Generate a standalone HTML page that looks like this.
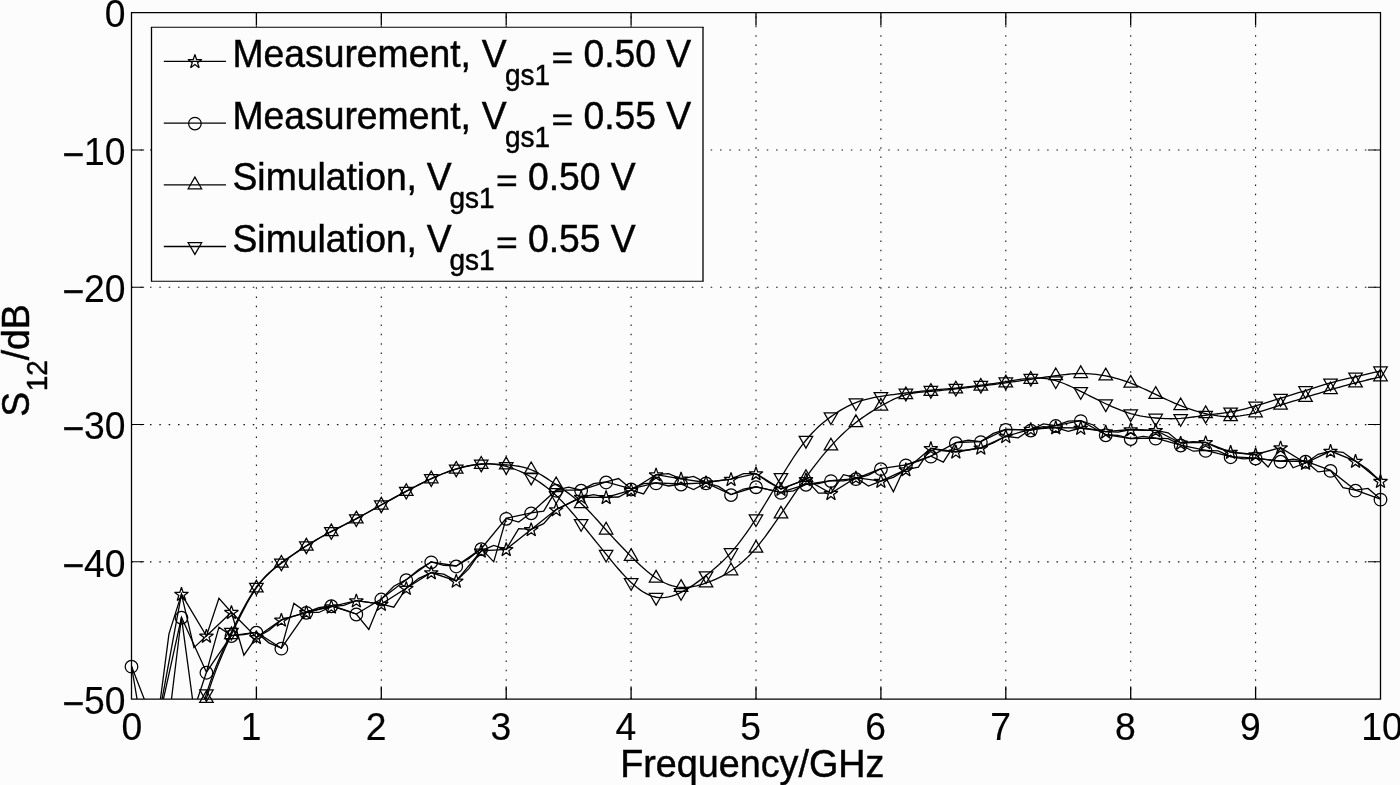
<!DOCTYPE html>
<html lang="en"><head><meta charset="utf-8"><title>S12 versus frequency</title>
<style>html,body{margin:0;padding:0;background:#fcfcfc;}body{width:1400px;height:785px;overflow:hidden;}svg{display:block;will-change:transform;}text{font-family:"Liberation Sans", sans-serif;fill:#000;stroke:#000;stroke-width:0.45px;}</style></head><body>
<svg width="1400" height="785" viewBox="0 0 1400 785">
<rect x="0" y="0" width="1400" height="785" fill="#fcfcfc"/>
<defs><clipPath id="ax"><rect x="131.50" y="12.80" width="1249.00" height="686.30"/></clipPath></defs>
<path d="M256.40 699.10 V12.80 M381.30 699.10 V12.80 M506.20 699.10 V12.80 M631.10 699.10 V12.80 M756.00 699.10 V12.80 M880.90 699.10 V12.80 M1005.80 699.10 V12.80 M1130.70 699.10 V12.80 M1255.60 699.10 V12.80" fill="none" stroke="#111" stroke-width="1.1" stroke-dasharray="1.5 7.8335" stroke-dashoffset="0.25"/>
<path d="M131.50 150.06 H1380.50 M131.50 287.32 H1380.50 M131.50 424.58 H1380.50 M131.50 561.84 H1380.50" fill="none" stroke="#111" stroke-width="1.1" stroke-dasharray="1.5 7.8450" stroke-dashoffset="0.2"/>
<g clip-path="url(#ax)" fill="none" stroke="#000" stroke-width="1.30" stroke-linejoin="miter">
<path d="M131.50 863.81 L143.99 918.72 L156.48 729.30 L168.97 633.90 L181.46 594.10 L193.95 647.63 L206.44 635.96 L218.93 598.21 L231.42 612.21 L243.91 655.18 L256.40 637.33 L268.89 630.47 L281.38 619.90 L293.87 616.12 L306.36 612.35 L318.85 612.47 L331.34 606.72 L343.83 605.29 L356.32 600.68 L368.81 602.40 L381.30 604.12 L393.79 607.14 L406.28 588.19 L418.77 578.29 L431.26 572.55 L443.75 574.19 L456.24 580.92 L468.73 568.87 L481.22 550.86 L493.71 545.37 L506.20 549.35 L518.69 528.62 L531.18 529.45 L543.67 523.68 L556.16 509.54 L568.65 503.70 L581.14 497.19 L593.63 494.58 L606.12 497.33 L618.61 497.02 L631.10 490.19 L643.59 493.90 L656.08 474.68 L668.57 473.65 L681.06 478.80 L693.55 476.33 L706.04 482.50 L718.53 480.52 L731.02 479.21 L743.51 473.59 L756.00 473.58 L768.49 482.23 L780.98 489.09 L793.47 484.13 L805.96 479.48 L818.45 493.21 L830.94 493.21 L843.43 474.68 L855.92 477.70 L868.41 486.07 L880.90 481.13 L893.39 477.39 L905.88 469.60 L918.37 467.13 L930.86 448.33 L943.35 450.92 L955.84 451.76 L968.33 449.99 L980.82 447.91 L993.31 443.00 L1005.80 436.25 L1018.29 437.89 L1030.78 429.25 L1043.27 426.58 L1055.76 427.60 L1068.25 431.44 L1080.74 428.01 L1093.23 429.37 L1105.72 431.72 L1118.21 432.16 L1130.70 429.52 L1143.19 430.26 L1155.68 430.34 L1168.17 432.82 L1180.66 442.97 L1193.15 441.62 L1205.64 442.42 L1218.13 448.12 L1230.62 452.03 L1243.11 453.55 L1255.60 454.50 L1268.09 466.99 L1280.58 447.64 L1293.07 467.82 L1305.56 463.01 L1318.05 454.25 L1330.54 451.07 L1343.03 452.31 L1355.52 461.09 L1368.01 469.46 L1380.50 481.13"/>
<path d="M131.50 863.81 L156.48 729.30 L181.46 594.10 L206.44 635.96 L231.42 612.21 L256.40 637.33 L281.38 619.90 L306.36 612.35 L331.34 606.72 L356.32 600.68 L381.30 604.12 L406.28 588.19 L431.26 572.55 L456.24 580.92 L481.22 550.86 L506.20 549.35 L531.18 529.45 L556.16 509.54 L581.14 497.19 L606.12 497.33 L631.10 490.19 L656.08 474.68 L681.06 478.80 L706.04 482.50 L731.02 479.21 L756.00 473.58 L780.98 489.09 L805.96 479.48 L830.94 493.21 L855.92 477.70 L880.90 481.13 L905.88 469.60 L930.86 448.33 L955.84 451.76 L980.82 447.91 L1005.80 436.25 L1030.78 429.25 L1055.76 427.60 L1080.74 428.01 L1105.72 431.72 L1130.70 429.52 L1155.68 430.34 L1180.66 442.97 L1205.64 442.42 L1230.62 452.03 L1255.60 454.50 L1280.58 447.64 L1305.56 463.01 L1330.54 451.07 L1355.52 461.09 L1380.50 481.13"/>
<path d="M131.50 666.16 L143.99 740.28 L156.48 730.67 L168.97 719.69 L181.46 617.29 L193.95 709.67 L206.44 672.20 L218.93 627.18 L231.42 635.55 L243.91 634.49 L256.40 632.25 L268.89 642.82 L281.38 648.18 L293.87 603.43 L306.36 612.35 L318.85 607.62 L331.34 605.76 L343.83 609.71 L356.32 614.00 L368.81 629.51 L381.30 599.04 L393.79 586.23 L406.28 579.68 L418.77 569.51 L431.26 561.84 L443.75 565.27 L456.24 565.96 L468.73 558.62 L481.22 548.66 L493.71 561.84 L506.20 518.33 L518.69 522.03 L531.18 512.84 L543.67 511.19 L556.16 490.19 L568.65 487.14 L581.14 490.19 L593.63 483.68 L606.12 481.95 L618.61 478.52 L631.10 488.95 L643.59 483.59 L656.08 482.92 L668.57 486.00 L681.06 484.01 L693.55 489.50 L706.04 482.92 L718.53 486.35 L731.02 494.58 L743.51 489.01 L756.00 486.76 L768.49 489.67 L780.98 492.39 L793.47 490.83 L805.96 484.29 L818.45 483.51 L830.94 480.58 L843.43 480.83 L855.92 478.66 L868.41 475.02 L880.90 468.64 L893.39 491.84 L905.88 464.80 L918.37 461.06 L930.86 456.15 L943.35 462.05 L955.84 442.70 L968.33 440.26 L980.82 441.60 L993.31 433.46 L1005.80 429.38 L1018.29 429.57 L1030.78 430.07 L1043.27 423.89 L1055.76 425.54 L1068.25 421.16 L1080.74 420.60 L1093.23 425.01 L1105.72 434.74 L1118.21 435.46 L1130.70 438.58 L1143.19 436.31 L1155.68 438.17 L1168.17 438.59 L1180.66 445.03 L1193.15 451.21 L1205.64 450.38 L1218.13 450.96 L1230.62 456.70 L1243.11 458.92 L1255.60 458.07 L1268.09 459.82 L1280.58 461.23 L1293.07 459.19 L1305.56 461.23 L1318.05 471.93 L1330.54 470.42 L1343.03 487.72 L1355.52 490.19 L1368.01 488.41 L1380.50 499.11"/>
<path d="M131.50 666.16 L156.48 730.67 L181.46 617.29 L206.44 672.20 L231.42 635.55 L256.40 632.25 L281.38 648.18 L306.36 612.35 L331.34 605.76 L356.32 614.00 L381.30 599.04 L406.28 579.68 L431.26 561.84 L456.24 565.96 L481.22 548.66 L506.20 518.33 L531.18 512.84 L556.16 490.19 L581.14 490.19 L606.12 481.95 L631.10 488.95 L656.08 482.92 L681.06 484.01 L706.04 482.92 L731.02 494.58 L756.00 486.76 L780.98 492.39 L805.96 484.29 L830.94 480.58 L855.92 478.66 L880.90 468.64 L905.88 464.80 L930.86 456.15 L955.84 442.70 L980.82 441.60 L1005.80 429.38 L1030.78 430.07 L1055.76 425.54 L1080.74 420.60 L1105.72 434.74 L1130.70 438.58 L1155.68 438.17 L1180.66 445.03 L1205.64 450.38 L1230.62 456.70 L1255.60 458.07 L1280.58 461.23 L1305.56 461.23 L1330.54 470.42 L1355.52 490.19 L1380.50 499.11"/>
<path d="M131.50 1110.88 L134.62 1089.04 L137.75 1067.55 L140.87 1046.41 L143.99 1025.62 L147.11 1005.20 L150.24 985.15 L153.36 965.47 L156.48 946.17 L159.60 927.26 L162.72 908.73 L165.85 890.61 L168.97 872.89 L172.09 855.58 L175.22 838.69 L178.34 822.21 L181.46 806.16 L184.58 790.56 L187.71 775.44 L190.83 760.88 L193.95 746.93 L197.07 733.64 L200.19 721.09 L203.32 709.33 L206.44 698.41 L209.56 688.38 L212.69 679.15 L215.81 670.61 L218.93 662.66 L222.05 655.19 L225.18 648.09 L228.30 641.26 L231.42 634.59 L234.54 628.00 L237.67 621.51 L240.79 615.19 L243.91 609.08 L247.03 603.25 L250.16 597.74 L253.28 592.61 L256.40 587.92 L259.52 583.70 L262.64 579.92 L265.77 576.51 L268.89 573.43 L272.01 570.62 L275.13 568.01 L278.26 565.56 L281.38 563.21 L284.50 560.92 L287.62 558.66 L290.75 556.45 L293.87 554.28 L296.99 552.16 L300.12 550.08 L303.24 548.05 L306.36 546.06 L309.48 544.11 L312.61 542.20 L315.73 540.34 L318.85 538.52 L321.97 536.74 L325.10 535.00 L328.22 533.30 L331.34 531.64 L334.46 530.02 L337.59 528.42 L340.71 526.84 L343.83 525.27 L346.95 523.69 L350.07 522.11 L353.20 520.51 L356.32 518.88 L359.44 517.21 L362.56 515.51 L365.69 513.79 L368.81 512.04 L371.93 510.29 L375.06 508.53 L378.18 506.77 L381.30 505.01 L384.42 503.28 L387.55 501.55 L390.67 499.84 L393.79 498.14 L396.91 496.45 L400.03 494.77 L403.16 493.09 L406.28 491.43 L409.40 489.77 L412.52 488.12 L415.65 486.49 L418.77 484.88 L421.89 483.30 L425.01 481.76 L428.14 480.25 L431.26 478.80 L434.38 477.39 L437.50 476.04 L440.63 474.74 L443.75 473.51 L446.87 472.33 L450.00 471.22 L453.12 470.17 L456.24 469.19 L459.36 468.28 L462.49 467.44 L465.61 466.69 L468.73 466.01 L471.85 465.43 L474.98 464.94 L478.10 464.54 L481.22 464.25 L484.34 464.06 L487.47 463.97 L490.59 463.96 L493.71 464.03 L496.83 464.15 L499.96 464.33 L503.08 464.55 L506.20 464.80 L509.32 465.07 L512.45 465.38 L515.57 465.77 L518.69 466.26 L521.81 466.87 L524.94 467.64 L528.06 468.58 L531.18 469.74 L534.30 471.12 L537.42 472.70 L540.55 474.45 L543.67 476.35 L546.79 478.35 L549.92 480.43 L553.04 482.56 L556.16 484.70 L559.28 486.83 L562.40 488.97 L565.53 491.15 L568.65 493.39 L571.77 495.72 L574.90 498.17 L578.02 500.75 L581.14 503.50 L584.26 506.44 L587.38 509.55 L590.51 512.79 L593.63 516.13 L596.75 519.56 L599.88 523.03 L603.00 526.52 L606.12 530.00 L609.24 533.44 L612.37 536.84 L615.49 540.20 L618.61 543.52 L621.73 546.79 L624.86 550.02 L627.98 553.21 L631.10 556.35 L634.22 559.44 L637.35 562.47 L640.47 565.41 L643.59 568.24 L646.71 570.94 L649.84 573.48 L652.96 575.86 L656.08 578.04 L659.20 580.00 L662.33 581.75 L665.45 583.27 L668.57 584.56 L671.69 585.62 L674.82 586.45 L677.94 587.03 L681.06 587.37 L684.18 587.47 L687.31 587.34 L690.43 587.00 L693.55 586.48 L696.67 585.80 L699.79 584.97 L702.92 584.03 L706.04 582.98 L709.16 581.85 L712.29 580.62 L715.41 579.30 L718.53 577.86 L721.65 576.30 L724.77 574.61 L727.90 572.76 L731.02 570.76 L734.14 568.59 L737.27 566.25 L740.39 563.72 L743.51 561.00 L746.63 558.09 L749.75 554.98 L752.88 551.65 L756.00 548.11 L759.12 544.36 L762.25 540.40 L765.37 536.28 L768.49 532.00 L771.61 527.61 L774.74 523.11 L777.86 518.55 L780.98 513.94 L784.10 509.30 L787.23 504.66 L790.35 500.02 L793.47 495.40 L796.59 490.82 L799.72 486.29 L802.84 481.82 L805.96 477.43 L809.08 473.12 L812.21 468.91 L815.33 464.81 L818.45 460.81 L821.57 456.92 L824.70 453.15 L827.82 449.51 L830.94 445.99 L834.06 442.61 L837.19 439.36 L840.31 436.23 L843.43 433.24 L846.55 430.38 L849.67 427.63 L852.80 425.02 L855.92 422.52 L859.04 420.14 L862.17 417.88 L865.29 415.71 L868.41 413.64 L871.53 411.64 L874.65 409.72 L877.78 407.86 L880.90 406.05 L884.02 404.29 L887.15 402.59 L890.27 400.96 L893.39 399.44 L896.51 398.03 L899.63 396.75 L902.76 395.62 L905.88 394.66 L909.00 393.88 L912.12 393.25 L915.25 392.76 L918.37 392.38 L921.49 392.07 L924.62 391.82 L927.74 391.59 L930.86 391.36 L933.98 391.11 L937.11 390.83 L940.23 390.54 L943.35 390.22 L946.47 389.90 L949.60 389.57 L952.72 389.23 L955.84 388.89 L958.96 388.56 L962.09 388.23 L965.21 387.89 L968.33 387.56 L971.45 387.22 L974.58 386.87 L977.70 386.51 L980.82 386.15 L983.94 385.77 L987.07 385.38 L990.19 384.97 L993.31 384.56 L996.43 384.14 L999.56 383.72 L1002.68 383.29 L1005.80 382.85 L1008.92 382.42 L1012.05 381.98 L1015.17 381.53 L1018.29 381.09 L1021.41 380.64 L1024.54 380.19 L1027.66 379.74 L1030.78 379.28 L1033.90 378.83 L1037.03 378.37 L1040.15 377.92 L1043.27 377.46 L1046.39 377.01 L1049.52 376.57 L1052.64 376.14 L1055.76 375.72 L1058.88 375.30 L1062.01 374.91 L1065.13 374.55 L1068.25 374.23 L1071.37 373.96 L1074.50 373.74 L1077.62 373.59 L1080.74 373.52 L1083.86 373.53 L1086.99 373.62 L1090.11 373.79 L1093.23 374.05 L1096.35 374.38 L1099.47 374.79 L1102.60 375.28 L1105.72 375.85 L1108.84 376.50 L1111.97 377.22 L1115.09 378.01 L1118.21 378.89 L1121.33 379.83 L1124.46 380.86 L1127.58 381.95 L1130.70 383.13 L1133.82 384.37 L1136.95 385.69 L1140.07 387.06 L1143.19 388.47 L1146.31 389.92 L1149.43 391.39 L1152.56 392.89 L1155.68 394.38 L1158.80 395.88 L1161.92 397.36 L1165.05 398.82 L1168.17 400.26 L1171.29 401.67 L1174.41 403.04 L1177.54 404.37 L1180.66 405.64 L1183.78 406.85 L1186.91 408.01 L1190.03 409.10 L1193.15 410.13 L1196.27 411.10 L1199.39 412.00 L1202.52 412.83 L1205.64 413.60 L1208.76 414.30 L1211.88 414.92 L1215.01 415.45 L1218.13 415.90 L1221.25 416.24 L1224.38 416.48 L1227.50 416.61 L1230.62 416.62 L1233.74 416.50 L1236.87 416.26 L1239.99 415.91 L1243.11 415.46 L1246.23 414.91 L1249.36 414.28 L1252.48 413.56 L1255.60 412.78 L1258.72 411.93 L1261.85 411.03 L1264.97 410.09 L1268.09 409.11 L1271.21 408.11 L1274.34 407.10 L1277.46 406.09 L1280.58 405.09 L1283.70 404.10 L1286.83 403.13 L1289.95 402.17 L1293.07 401.21 L1296.19 400.26 L1299.32 399.31 L1302.44 398.36 L1305.56 397.40 L1308.68 396.44 L1311.81 395.47 L1314.93 394.49 L1318.05 393.52 L1321.17 392.56 L1324.30 391.60 L1327.42 390.65 L1330.54 389.72 L1333.66 388.80 L1336.79 387.90 L1339.91 387.02 L1343.03 386.16 L1346.15 385.31 L1349.28 384.48 L1352.40 383.66 L1355.52 382.85 L1358.64 382.06 L1361.77 381.28 L1364.89 380.51 L1368.01 379.75 L1371.13 379.00 L1374.26 378.27 L1377.38 377.54 L1380.50 376.81" stroke-width="1.3"/>
<path d="M131.50 1110.88 L134.62 1090.50 L137.75 1069.94 L140.87 1049.25 L143.99 1028.50 L147.11 1007.76 L150.24 987.08 L153.36 966.52 L156.48 946.17 L159.60 926.07 L162.72 906.29 L165.85 886.90 L168.97 867.95 L172.09 849.52 L175.22 831.66 L178.34 814.44 L181.46 797.93 L184.58 782.17 L187.71 767.18 L190.83 752.97 L193.95 739.53 L197.07 726.87 L200.19 714.99 L203.32 703.91 L206.44 693.61 L209.56 684.09 L212.69 675.27 L215.81 667.07 L218.93 659.39 L222.05 652.15 L225.18 645.25 L228.30 638.60 L231.42 632.12 L234.54 625.73 L237.67 619.46 L240.79 613.37 L243.91 607.49 L247.03 601.87 L250.16 596.57 L253.28 591.63 L256.40 587.10 L259.52 583.00 L262.64 579.31 L265.77 575.97 L268.89 572.94 L272.01 570.16 L275.13 567.57 L278.26 565.14 L281.38 562.80 L284.50 560.52 L287.62 558.28 L290.75 556.09 L293.87 553.94 L296.99 551.84 L300.12 549.78 L303.24 547.76 L306.36 545.78 L309.48 543.84 L312.61 541.94 L315.73 540.08 L318.85 538.26 L321.97 536.48 L325.10 534.74 L328.22 533.03 L331.34 531.37 L334.46 529.74 L337.59 528.14 L340.71 526.56 L343.83 524.99 L346.95 523.42 L350.07 521.84 L353.20 520.23 L356.32 518.60 L359.44 516.94 L362.56 515.24 L365.69 513.51 L368.81 511.77 L371.93 510.01 L375.06 508.25 L378.18 506.49 L381.30 504.74 L384.42 503.00 L387.55 501.28 L390.67 499.56 L393.79 497.86 L396.91 496.17 L400.03 494.49 L403.16 492.82 L406.28 491.15 L409.40 489.49 L412.52 487.84 L415.65 486.21 L418.77 484.60 L421.89 483.02 L425.01 481.48 L428.14 479.98 L431.26 478.52 L434.38 477.12 L437.50 475.77 L440.63 474.48 L443.75 473.25 L446.87 472.07 L450.00 470.96 L453.12 469.90 L456.24 468.91 L459.36 467.99 L462.49 467.14 L465.61 466.37 L468.73 465.69 L471.85 465.10 L474.98 464.61 L478.10 464.23 L481.22 463.97 L484.34 463.84 L487.47 463.83 L490.59 463.94 L493.71 464.18 L496.83 464.55 L499.96 465.05 L503.08 465.68 L506.20 466.44 L509.32 467.34 L512.45 468.36 L515.57 469.50 L518.69 470.77 L521.81 472.16 L524.94 473.67 L528.06 475.28 L531.18 477.01 L534.30 478.85 L537.42 480.81 L540.55 482.89 L543.67 485.11 L546.79 487.47 L549.92 489.99 L553.04 492.68 L556.16 495.54 L559.28 498.59 L562.40 501.80 L565.53 505.16 L568.65 508.64 L571.77 512.22 L574.90 515.90 L578.02 519.63 L581.14 523.41 L584.26 527.21 L587.38 531.03 L590.51 534.87 L593.63 538.72 L596.75 542.58 L599.88 546.44 L603.00 550.30 L606.12 554.15 L609.24 558.00 L612.37 561.81 L615.49 565.55 L618.61 569.21 L621.73 572.76 L624.86 576.16 L627.98 579.39 L631.10 582.43 L634.22 585.25 L637.35 587.82 L640.47 590.14 L643.59 592.19 L646.71 593.94 L649.84 595.38 L652.96 596.49 L656.08 597.25 L659.20 597.66 L662.33 597.72 L665.45 597.47 L668.57 596.93 L671.69 596.12 L674.82 595.06 L677.94 593.78 L681.06 592.31 L684.18 590.66 L687.31 588.86 L690.43 586.91 L693.55 584.84 L696.67 582.65 L699.79 580.37 L702.92 578.00 L706.04 575.57 L709.16 573.07 L712.29 570.51 L715.41 567.85 L718.53 565.08 L721.65 562.18 L724.77 559.13 L727.90 555.91 L731.02 552.51 L734.14 548.90 L737.27 545.09 L740.39 541.09 L743.51 536.92 L746.63 532.57 L749.75 528.06 L752.88 523.40 L756.00 518.60 L759.12 513.67 L762.25 508.63 L765.37 503.50 L768.49 498.31 L771.61 493.09 L774.74 487.85 L777.86 482.62 L780.98 477.43 L784.10 472.29 L787.23 467.24 L790.35 462.30 L793.47 457.50 L796.59 452.87 L799.72 448.42 L802.84 444.20 L805.96 440.23 L809.08 436.52 L812.21 433.06 L815.33 429.85 L818.45 426.84 L821.57 424.04 L824.70 421.41 L827.82 418.94 L830.94 416.62 L834.06 414.42 L837.19 412.34 L840.31 410.39 L843.43 408.57 L846.55 406.88 L849.67 405.32 L852.80 403.90 L855.92 402.62 L859.04 401.47 L862.17 400.46 L865.29 399.56 L868.41 398.76 L871.53 398.04 L874.65 397.41 L877.78 396.83 L880.90 396.30 L884.02 395.82 L887.15 395.36 L890.27 394.93 L893.39 394.52 L896.51 394.13 L899.63 393.75 L902.76 393.38 L905.88 393.01 L909.00 392.64 L912.12 392.28 L915.25 391.92 L918.37 391.57 L921.49 391.22 L924.62 390.89 L927.74 390.57 L930.86 390.27 L933.98 389.98 L937.11 389.70 L940.23 389.44 L943.35 389.18 L946.47 388.91 L949.60 388.64 L952.72 388.36 L955.84 388.07 L958.96 387.75 L962.09 387.42 L965.21 387.07 L968.33 386.71 L971.45 386.34 L974.58 385.96 L977.70 385.57 L980.82 385.19 L983.94 384.80 L987.07 384.40 L990.19 384.00 L993.31 383.59 L996.43 383.16 L999.56 382.72 L1002.68 382.25 L1005.80 381.75 L1008.92 381.23 L1012.05 380.70 L1015.17 380.17 L1018.29 379.66 L1021.41 379.19 L1024.54 378.78 L1027.66 378.44 L1030.78 378.19 L1033.90 378.04 L1037.03 378.01 L1040.15 378.11 L1043.27 378.33 L1046.39 378.69 L1049.52 379.19 L1052.64 379.85 L1055.76 380.66 L1058.88 381.63 L1062.01 382.74 L1065.13 383.98 L1068.25 385.33 L1071.37 386.76 L1074.50 388.26 L1077.62 389.80 L1080.74 391.36 L1083.86 392.94 L1086.99 394.51 L1090.11 396.08 L1093.23 397.65 L1096.35 399.20 L1099.47 400.73 L1102.60 402.24 L1105.72 403.72 L1108.84 405.17 L1111.97 406.57 L1115.09 407.93 L1118.21 409.22 L1121.33 410.45 L1124.46 411.59 L1127.58 412.64 L1130.70 413.60 L1133.82 414.45 L1136.95 415.19 L1140.07 415.85 L1143.19 416.42 L1146.31 416.91 L1149.43 417.33 L1152.56 417.69 L1155.68 417.99 L1158.80 418.25 L1161.92 418.46 L1165.05 418.61 L1168.17 418.70 L1171.29 418.73 L1174.41 418.70 L1177.54 418.59 L1180.66 418.40 L1183.78 418.14 L1186.91 417.81 L1190.03 417.43 L1193.15 417.01 L1196.27 416.57 L1199.39 416.12 L1202.52 415.67 L1205.64 415.25 L1208.76 414.85 L1211.88 414.47 L1215.01 414.10 L1218.13 413.73 L1221.25 413.34 L1224.38 412.93 L1227.50 412.47 L1230.62 411.95 L1233.74 411.37 L1236.87 410.74 L1239.99 410.04 L1243.11 409.30 L1246.23 408.51 L1249.36 407.67 L1252.48 406.81 L1255.60 405.91 L1258.72 404.99 L1261.85 404.05 L1264.97 403.10 L1268.09 402.13 L1271.21 401.15 L1274.34 400.18 L1277.46 399.20 L1280.58 398.23 L1283.70 397.26 L1286.83 396.30 L1289.95 395.35 L1293.07 394.40 L1296.19 393.44 L1299.32 392.48 L1302.44 391.52 L1305.56 390.54 L1308.68 389.55 L1311.81 388.56 L1314.93 387.57 L1318.05 386.58 L1321.17 385.61 L1324.30 384.66 L1327.42 383.74 L1330.54 382.85 L1333.66 382.01 L1336.79 381.20 L1339.91 380.42 L1343.03 379.67 L1346.15 378.93 L1349.28 378.22 L1352.40 377.51 L1355.52 376.81 L1358.64 376.11 L1361.77 375.41 L1364.89 374.69 L1368.01 373.96 L1371.13 373.21 L1374.26 372.43 L1377.38 371.62 L1380.50 370.77" stroke-width="1.3"/>
</g>
<g fill="none" stroke="#000" stroke-width="1.25" stroke-linejoin="miter" stroke-miterlimit="3">
<path d="M181.46 587.30 L183.10 592.34 L188.40 592.34 L184.11 595.46 L185.75 600.50 L181.46 597.38 L177.17 600.50 L178.81 595.46 L174.52 592.34 L179.82 592.34Z M206.44 629.16 L208.08 634.20 L213.38 634.20 L209.09 637.32 L210.73 642.37 L206.44 639.25 L202.15 642.37 L203.79 637.32 L199.50 634.20 L204.80 634.20Z M231.42 605.41 L233.06 610.46 L238.36 610.46 L234.07 613.58 L235.71 618.62 L231.42 615.50 L227.13 618.62 L228.77 613.58 L224.48 610.46 L229.78 610.46Z M256.40 630.53 L258.04 635.58 L263.34 635.58 L259.05 638.69 L260.69 643.74 L256.40 640.62 L252.11 643.74 L253.75 638.69 L249.46 635.58 L254.76 635.58Z M281.38 613.10 L283.02 618.14 L288.32 618.15 L284.03 621.26 L285.67 626.31 L281.38 623.19 L277.09 626.31 L278.73 621.26 L274.44 618.15 L279.74 618.14Z M306.36 605.55 L308.00 610.60 L313.30 610.60 L309.01 613.71 L310.65 618.76 L306.36 615.64 L302.07 618.76 L303.71 613.71 L299.42 610.60 L304.72 610.60Z M331.34 599.92 L332.98 604.97 L338.28 604.97 L333.99 608.09 L335.63 613.13 L331.34 610.01 L327.05 613.13 L328.69 608.09 L324.40 604.97 L329.70 604.97Z M356.32 593.88 L357.96 598.93 L363.26 598.93 L358.97 602.05 L360.61 607.09 L356.32 603.97 L352.03 607.09 L353.67 602.05 L349.38 598.93 L354.68 598.93Z M381.30 597.32 L382.94 602.36 L388.24 602.36 L383.95 605.48 L385.59 610.52 L381.30 607.40 L377.01 610.52 L378.65 605.48 L374.36 602.36 L379.66 602.36Z M406.28 581.39 L407.92 586.44 L413.22 586.44 L408.93 589.56 L410.57 594.60 L406.28 591.48 L401.99 594.60 L403.63 589.56 L399.34 586.44 L404.64 586.44Z M431.26 565.75 L432.90 570.79 L438.20 570.79 L433.91 573.91 L435.55 578.95 L431.26 575.83 L426.97 578.95 L428.61 573.91 L424.32 570.79 L429.62 570.79Z M456.24 574.12 L457.88 579.16 L463.18 579.16 L458.89 582.28 L460.53 587.32 L456.24 584.21 L451.95 587.32 L453.59 582.28 L449.30 579.16 L454.60 579.16Z M481.22 544.06 L482.86 549.10 L488.16 549.10 L483.87 552.22 L485.51 557.27 L481.22 554.15 L476.93 557.27 L478.57 552.22 L474.28 549.10 L479.58 549.10Z M506.20 542.55 L507.84 547.59 L513.14 547.59 L508.85 550.71 L510.49 555.76 L506.20 552.64 L501.91 555.76 L503.55 550.71 L499.26 547.59 L504.56 547.59Z M531.18 522.65 L532.82 527.69 L538.12 527.69 L533.83 530.81 L535.47 535.85 L531.18 532.74 L526.89 535.85 L528.53 530.81 L524.24 527.69 L529.54 527.69Z M556.16 502.74 L557.80 507.79 L563.10 507.79 L558.81 510.91 L560.45 515.95 L556.16 512.83 L551.87 515.95 L553.51 510.91 L549.22 507.79 L554.52 507.79Z M581.14 490.39 L582.78 495.43 L588.08 495.43 L583.79 498.55 L585.43 503.60 L581.14 500.48 L576.85 503.60 L578.49 498.55 L574.20 495.43 L579.50 495.43Z M606.12 490.53 L607.76 495.57 L613.06 495.57 L608.77 498.69 L610.41 503.73 L606.12 500.62 L601.83 503.73 L603.47 498.69 L599.18 495.57 L604.48 495.57Z M631.10 483.39 L632.74 488.43 L638.04 488.43 L633.75 491.55 L635.39 496.60 L631.10 493.48 L626.81 496.60 L628.45 491.55 L624.16 488.43 L629.46 488.43Z M656.08 467.88 L657.72 472.92 L663.02 472.92 L658.73 476.04 L660.37 481.09 L656.08 477.97 L651.79 481.09 L653.43 476.04 L649.14 472.92 L654.44 472.92Z M681.06 472.00 L682.70 477.04 L688.00 477.04 L683.71 480.16 L685.35 485.20 L681.06 482.09 L676.77 485.20 L678.41 480.16 L674.12 477.04 L679.42 477.04Z M706.04 475.70 L707.68 480.75 L712.98 480.75 L708.69 483.87 L710.33 488.91 L706.04 485.79 L701.75 488.91 L703.39 483.87 L699.10 480.75 L704.40 480.75Z M731.02 472.41 L732.66 477.45 L737.96 477.45 L733.67 480.57 L735.31 485.62 L731.02 482.50 L726.73 485.62 L728.37 480.57 L724.08 477.45 L729.38 477.45Z M756.00 466.78 L757.64 471.83 L762.94 471.83 L758.65 474.94 L760.29 479.99 L756.00 476.87 L751.71 479.99 L753.35 474.94 L749.06 471.83 L754.36 471.83Z M780.98 482.29 L782.62 487.34 L787.92 487.34 L783.63 490.45 L785.27 495.50 L780.98 492.38 L776.69 495.50 L778.33 490.45 L774.04 487.34 L779.34 487.34Z M805.96 472.68 L807.60 477.73 L812.90 477.73 L808.61 480.85 L810.25 485.89 L805.96 482.77 L801.67 485.89 L803.31 480.85 L799.02 477.73 L804.32 477.73Z M830.94 486.41 L832.58 491.45 L837.88 491.45 L833.59 494.57 L835.23 499.62 L830.94 496.50 L826.65 499.62 L828.29 494.57 L824.00 491.45 L829.30 491.45Z M855.92 470.90 L857.56 475.94 L862.86 475.94 L858.57 479.06 L860.21 484.11 L855.92 480.99 L851.63 484.11 L853.27 479.06 L848.98 475.94 L854.28 475.94Z M880.90 474.33 L882.54 479.38 L887.84 479.38 L883.55 482.49 L885.19 487.54 L880.90 484.42 L876.61 487.54 L878.25 482.49 L873.96 479.38 L879.26 479.38Z M905.88 462.80 L907.52 467.85 L912.82 467.85 L908.53 470.96 L910.17 476.01 L905.88 472.89 L901.59 476.01 L903.23 470.96 L898.94 467.85 L904.24 467.85Z M930.86 441.53 L932.50 446.57 L937.80 446.57 L933.51 449.69 L935.15 454.73 L930.86 451.61 L926.57 454.73 L928.21 449.69 L923.92 446.57 L929.22 446.57Z M955.84 444.96 L957.48 450.00 L962.78 450.00 L958.49 453.12 L960.13 458.16 L955.84 455.05 L951.55 458.16 L953.19 453.12 L948.90 450.00 L954.20 450.00Z M980.82 441.11 L982.46 446.16 L987.76 446.16 L983.47 449.28 L985.11 454.32 L980.82 451.20 L976.53 454.32 L978.17 449.28 L973.88 446.16 L979.18 446.16Z M1005.80 429.45 L1007.44 434.49 L1012.74 434.49 L1008.45 437.61 L1010.09 442.65 L1005.80 439.54 L1001.51 442.65 L1003.15 437.61 L998.86 434.49 L1004.16 434.49Z M1030.78 422.45 L1032.42 427.49 L1037.72 427.49 L1033.43 430.61 L1035.07 435.65 L1030.78 432.54 L1026.49 435.65 L1028.13 430.61 L1023.84 427.49 L1029.14 427.49Z M1055.76 420.80 L1057.40 425.84 L1062.70 425.84 L1058.41 428.96 L1060.05 434.01 L1055.76 430.89 L1051.47 434.01 L1053.11 428.96 L1048.82 425.84 L1054.12 425.84Z M1080.74 421.21 L1082.38 426.26 L1087.68 426.26 L1083.39 429.37 L1085.03 434.42 L1080.74 431.30 L1076.45 434.42 L1078.09 429.37 L1073.80 426.26 L1079.10 426.26Z M1105.72 424.92 L1107.36 429.96 L1112.66 429.96 L1108.37 433.08 L1110.01 438.12 L1105.72 435.01 L1101.43 438.12 L1103.07 433.08 L1098.78 429.96 L1104.08 429.96Z M1130.70 422.72 L1132.34 427.77 L1137.64 427.77 L1133.35 430.88 L1134.99 435.93 L1130.70 432.81 L1126.41 435.93 L1128.05 430.88 L1123.76 427.77 L1129.06 427.77Z M1155.68 423.54 L1157.32 428.59 L1162.62 428.59 L1158.33 431.71 L1159.97 436.75 L1155.68 433.63 L1151.39 436.75 L1153.03 431.71 L1148.74 428.59 L1154.04 428.59Z M1180.66 436.17 L1182.30 441.22 L1187.60 441.22 L1183.31 444.33 L1184.95 449.38 L1180.66 446.26 L1176.37 449.38 L1178.01 444.33 L1173.72 441.22 L1179.02 441.22Z M1205.64 435.62 L1207.28 440.67 L1212.58 440.67 L1208.29 443.79 L1209.93 448.83 L1205.64 445.71 L1201.35 448.83 L1202.99 443.79 L1198.70 440.67 L1204.00 440.67Z M1230.62 445.23 L1232.26 450.28 L1237.56 450.28 L1233.27 453.39 L1234.91 458.44 L1230.62 455.32 L1226.33 458.44 L1227.97 453.39 L1223.68 450.28 L1228.98 450.28Z M1255.60 447.70 L1257.24 452.75 L1262.54 452.75 L1258.25 455.86 L1259.89 460.91 L1255.60 457.79 L1251.31 460.91 L1252.95 455.86 L1248.66 452.75 L1253.96 452.75Z M1280.58 440.84 L1282.22 445.88 L1287.52 445.88 L1283.23 449.00 L1284.87 454.05 L1280.58 450.93 L1276.29 454.05 L1277.93 449.00 L1273.64 445.88 L1278.94 445.88Z M1305.56 456.21 L1307.20 461.26 L1312.50 461.26 L1308.21 464.37 L1309.85 469.42 L1305.56 466.30 L1301.27 469.42 L1302.91 464.37 L1298.62 461.26 L1303.92 461.26Z M1330.54 444.27 L1332.18 449.32 L1337.48 449.32 L1333.19 452.43 L1334.83 457.48 L1330.54 454.36 L1326.25 457.48 L1327.89 452.43 L1323.60 449.32 L1328.90 449.32Z M1355.52 454.29 L1357.16 459.34 L1362.46 459.34 L1358.17 462.45 L1359.81 467.50 L1355.52 464.38 L1351.23 467.50 L1352.87 462.45 L1348.58 459.34 L1353.88 459.34Z M1380.50 474.33 L1382.14 479.38 L1387.44 479.38 L1383.15 482.49 L1384.79 487.54 L1380.50 484.42 L1376.21 487.54 L1377.85 482.49 L1373.56 479.38 L1378.86 479.38Z"/>
<path d="M125.20 666.66 a6.30 6.30 0 1 0 12.60 0 a6.30 6.30 0 1 0 -12.60 0Z M175.16 617.79 a6.30 6.30 0 1 0 12.60 0 a6.30 6.30 0 1 0 -12.60 0Z M200.14 672.70 a6.30 6.30 0 1 0 12.60 0 a6.30 6.30 0 1 0 -12.60 0Z M225.12 636.05 a6.30 6.30 0 1 0 12.60 0 a6.30 6.30 0 1 0 -12.60 0Z M250.10 632.75 a6.30 6.30 0 1 0 12.60 0 a6.30 6.30 0 1 0 -12.60 0Z M275.08 648.68 a6.30 6.30 0 1 0 12.60 0 a6.30 6.30 0 1 0 -12.60 0Z M300.06 612.85 a6.30 6.30 0 1 0 12.60 0 a6.30 6.30 0 1 0 -12.60 0Z M325.04 606.26 a6.30 6.30 0 1 0 12.60 0 a6.30 6.30 0 1 0 -12.60 0Z M350.02 614.50 a6.30 6.30 0 1 0 12.60 0 a6.30 6.30 0 1 0 -12.60 0Z M375.00 599.54 a6.30 6.30 0 1 0 12.60 0 a6.30 6.30 0 1 0 -12.60 0Z M399.98 580.18 a6.30 6.30 0 1 0 12.60 0 a6.30 6.30 0 1 0 -12.60 0Z M424.96 562.34 a6.30 6.30 0 1 0 12.60 0 a6.30 6.30 0 1 0 -12.60 0Z M449.94 566.46 a6.30 6.30 0 1 0 12.60 0 a6.30 6.30 0 1 0 -12.60 0Z M474.92 549.16 a6.30 6.30 0 1 0 12.60 0 a6.30 6.30 0 1 0 -12.60 0Z M499.90 518.83 a6.30 6.30 0 1 0 12.60 0 a6.30 6.30 0 1 0 -12.60 0Z M524.88 513.34 a6.30 6.30 0 1 0 12.60 0 a6.30 6.30 0 1 0 -12.60 0Z M549.86 490.69 a6.30 6.30 0 1 0 12.60 0 a6.30 6.30 0 1 0 -12.60 0Z M574.84 490.69 a6.30 6.30 0 1 0 12.60 0 a6.30 6.30 0 1 0 -12.60 0Z M599.82 482.45 a6.30 6.30 0 1 0 12.60 0 a6.30 6.30 0 1 0 -12.60 0Z M624.80 489.45 a6.30 6.30 0 1 0 12.60 0 a6.30 6.30 0 1 0 -12.60 0Z M649.78 483.42 a6.30 6.30 0 1 0 12.60 0 a6.30 6.30 0 1 0 -12.60 0Z M674.76 484.51 a6.30 6.30 0 1 0 12.60 0 a6.30 6.30 0 1 0 -12.60 0Z M699.74 483.42 a6.30 6.30 0 1 0 12.60 0 a6.30 6.30 0 1 0 -12.60 0Z M724.72 495.08 a6.30 6.30 0 1 0 12.60 0 a6.30 6.30 0 1 0 -12.60 0Z M749.70 487.26 a6.30 6.30 0 1 0 12.60 0 a6.30 6.30 0 1 0 -12.60 0Z M774.68 492.89 a6.30 6.30 0 1 0 12.60 0 a6.30 6.30 0 1 0 -12.60 0Z M799.66 484.79 a6.30 6.30 0 1 0 12.60 0 a6.30 6.30 0 1 0 -12.60 0Z M824.64 481.08 a6.30 6.30 0 1 0 12.60 0 a6.30 6.30 0 1 0 -12.60 0Z M849.62 479.16 a6.30 6.30 0 1 0 12.60 0 a6.30 6.30 0 1 0 -12.60 0Z M874.60 469.14 a6.30 6.30 0 1 0 12.60 0 a6.30 6.30 0 1 0 -12.60 0Z M899.58 465.30 a6.30 6.30 0 1 0 12.60 0 a6.30 6.30 0 1 0 -12.60 0Z M924.56 456.65 a6.30 6.30 0 1 0 12.60 0 a6.30 6.30 0 1 0 -12.60 0Z M949.54 443.20 a6.30 6.30 0 1 0 12.60 0 a6.30 6.30 0 1 0 -12.60 0Z M974.52 442.10 a6.30 6.30 0 1 0 12.60 0 a6.30 6.30 0 1 0 -12.60 0Z M999.50 429.88 a6.30 6.30 0 1 0 12.60 0 a6.30 6.30 0 1 0 -12.60 0Z M1024.48 430.57 a6.30 6.30 0 1 0 12.60 0 a6.30 6.30 0 1 0 -12.60 0Z M1049.46 426.04 a6.30 6.30 0 1 0 12.60 0 a6.30 6.30 0 1 0 -12.60 0Z M1074.44 421.10 a6.30 6.30 0 1 0 12.60 0 a6.30 6.30 0 1 0 -12.60 0Z M1099.42 435.24 a6.30 6.30 0 1 0 12.60 0 a6.30 6.30 0 1 0 -12.60 0Z M1124.40 439.08 a6.30 6.30 0 1 0 12.60 0 a6.30 6.30 0 1 0 -12.60 0Z M1149.38 438.67 a6.30 6.30 0 1 0 12.60 0 a6.30 6.30 0 1 0 -12.60 0Z M1174.36 445.53 a6.30 6.30 0 1 0 12.60 0 a6.30 6.30 0 1 0 -12.60 0Z M1199.34 450.88 a6.30 6.30 0 1 0 12.60 0 a6.30 6.30 0 1 0 -12.60 0Z M1224.32 457.20 a6.30 6.30 0 1 0 12.60 0 a6.30 6.30 0 1 0 -12.60 0Z M1249.30 458.57 a6.30 6.30 0 1 0 12.60 0 a6.30 6.30 0 1 0 -12.60 0Z M1274.28 461.73 a6.30 6.30 0 1 0 12.60 0 a6.30 6.30 0 1 0 -12.60 0Z M1299.26 461.73 a6.30 6.30 0 1 0 12.60 0 a6.30 6.30 0 1 0 -12.60 0Z M1324.24 470.92 a6.30 6.30 0 1 0 12.60 0 a6.30 6.30 0 1 0 -12.60 0Z M1349.22 490.69 a6.30 6.30 0 1 0 12.60 0 a6.30 6.30 0 1 0 -12.60 0Z M1374.20 499.61 a6.30 6.30 0 1 0 12.60 0 a6.30 6.30 0 1 0 -12.60 0Z"/>
<path d="M206.44 690.71 L213.19 702.41 L199.69 702.41Z M231.42 626.89 L238.17 638.59 L224.67 638.59Z M256.40 580.22 L263.15 591.92 L249.65 591.92Z M281.38 555.51 L288.13 567.21 L274.63 567.21Z M306.36 538.36 L313.11 550.06 L299.61 550.06Z M331.34 523.94 L338.09 535.64 L324.59 535.64Z M356.32 511.18 L363.07 522.88 L349.57 522.88Z M381.30 497.31 L388.05 509.01 L374.55 509.01Z M406.28 483.73 L413.03 495.43 L399.53 495.43Z M431.26 471.10 L438.01 482.80 L424.51 482.80Z M456.24 461.49 L462.99 473.19 L449.49 473.19Z M481.22 456.55 L487.97 468.25 L474.47 468.25Z M506.20 457.10 L512.95 468.80 L499.45 468.80Z M531.18 462.04 L537.93 473.74 L524.43 473.74Z M556.16 477.00 L562.91 488.70 L549.41 488.70Z M581.14 495.80 L587.89 507.50 L574.39 507.50Z M606.12 522.30 L612.87 534.00 L599.37 534.00Z M631.10 548.65 L637.85 560.35 L624.35 560.35Z M656.08 570.34 L662.83 582.04 L649.33 582.04Z M681.06 579.67 L687.81 591.37 L674.31 591.37Z M706.04 575.28 L712.79 586.98 L699.29 586.98Z M731.02 563.06 L737.77 574.76 L724.27 574.76Z M756.00 540.41 L762.75 552.11 L749.25 552.11Z M780.98 506.24 L787.73 517.94 L774.23 517.94Z M805.96 469.73 L812.71 481.43 L799.21 481.43Z M830.94 438.29 L837.69 449.99 L824.19 449.99Z M855.92 414.82 L862.67 426.52 L849.17 426.52Z M880.90 398.35 L887.65 410.05 L874.15 410.05Z M905.88 386.96 L912.63 398.66 L899.13 398.66Z M930.86 383.66 L937.61 395.36 L924.11 395.36Z M955.84 381.19 L962.59 392.89 L949.09 392.89Z M980.82 378.45 L987.57 390.15 L974.07 390.15Z M1005.80 375.15 L1012.55 386.85 L999.05 386.85Z M1030.78 371.58 L1037.53 383.28 L1024.03 383.28Z M1055.76 368.02 L1062.51 379.72 L1049.01 379.72Z M1080.74 365.82 L1087.49 377.52 L1073.99 377.52Z M1105.72 368.15 L1112.47 379.85 L1098.97 379.85Z M1130.70 375.43 L1137.45 387.13 L1123.95 387.13Z M1155.68 386.68 L1162.43 398.38 L1148.93 398.38Z M1180.66 397.94 L1187.41 409.64 L1173.91 409.64Z M1205.64 405.90 L1212.39 417.60 L1198.89 417.60Z M1230.62 408.92 L1237.37 420.62 L1223.87 420.62Z M1255.60 405.08 L1262.35 416.78 L1248.85 416.78Z M1280.58 397.39 L1287.33 409.09 L1273.83 409.09Z M1305.56 389.70 L1312.31 401.40 L1298.81 401.40Z M1330.54 382.02 L1337.29 393.72 L1323.79 393.72Z M1355.52 375.15 L1362.27 386.85 L1348.77 386.85Z M1380.50 369.11 L1387.25 380.81 L1373.75 380.81Z"/>
<path d="M206.44 701.51 L213.19 689.81 L199.69 689.81Z M231.42 640.02 L238.17 628.32 L224.67 628.32Z M256.40 595.00 L263.15 583.30 L249.65 583.30Z M281.38 570.70 L288.13 559.00 L274.63 559.00Z M306.36 553.68 L313.11 541.98 L299.61 541.98Z M331.34 539.27 L338.09 527.57 L324.59 527.57Z M356.32 526.50 L363.07 514.80 L349.57 514.80Z M381.30 512.64 L388.05 500.94 L374.55 500.94Z M406.28 499.05 L413.03 487.35 L399.53 487.35Z M431.26 486.42 L438.01 474.72 L424.51 474.72Z M456.24 476.81 L462.99 465.11 L449.49 465.11Z M481.22 471.87 L487.97 460.17 L474.47 460.17Z M506.20 474.34 L512.95 462.64 L499.45 462.64Z M531.18 484.91 L537.93 473.21 L524.43 473.21Z M556.16 503.44 L562.91 491.74 L549.41 491.74Z M581.14 531.31 L587.89 519.61 L574.39 519.61Z M606.12 562.05 L612.87 550.35 L599.37 550.35Z M631.10 590.33 L637.85 578.63 L624.35 578.63Z M656.08 605.15 L662.83 593.45 L649.33 593.45Z M681.06 600.21 L687.81 588.51 L674.31 588.51Z M706.04 583.47 L712.79 571.77 L699.29 571.77Z M731.02 560.41 L737.77 548.71 L724.27 548.71Z M756.00 526.50 L762.75 514.80 L749.25 514.80Z M780.98 485.33 L787.73 473.63 L774.23 473.63Z M805.96 448.13 L812.71 436.43 L799.21 436.43Z M830.94 424.52 L837.69 412.82 L824.19 412.82Z M855.92 410.52 L862.67 398.82 L849.17 398.82Z M880.90 404.20 L887.65 392.50 L874.15 392.50Z M905.88 400.91 L912.63 389.21 L899.13 389.21Z M930.86 398.17 L937.61 386.47 L924.11 386.47Z M955.84 395.97 L962.59 384.27 L949.09 384.27Z M980.82 393.09 L987.57 381.39 L974.07 381.39Z M1005.80 389.65 L1012.55 377.95 L999.05 377.95Z M1030.78 386.09 L1037.53 374.39 L1024.03 374.39Z M1055.76 388.56 L1062.51 376.86 L1049.01 376.86Z M1080.74 399.26 L1087.49 387.56 L1073.99 387.56Z M1105.72 411.62 L1112.47 399.92 L1098.97 399.92Z M1130.70 421.50 L1137.45 409.80 L1123.95 409.80Z M1155.68 425.89 L1162.43 414.19 L1148.93 414.19Z M1180.66 426.30 L1187.41 414.60 L1173.91 414.60Z M1205.64 423.15 L1212.39 411.45 L1198.89 411.45Z M1230.62 419.85 L1237.37 408.15 L1223.87 408.15Z M1255.60 413.81 L1262.35 402.11 L1248.85 402.11Z M1280.58 406.13 L1287.33 394.43 L1273.83 394.43Z M1305.56 398.44 L1312.31 386.74 L1298.81 386.74Z M1330.54 390.75 L1337.29 379.05 L1323.79 379.05Z M1355.52 384.71 L1362.27 373.01 L1348.77 373.01Z M1380.50 378.67 L1387.25 366.97 L1373.75 366.97Z"/>
</g>
<path d="M130.90 12.60 H1381.10 M130.90 699.10 H1381.10 M131.50 150.06 h12.60 M1380.50 150.06 h-12.60 M131.50 287.32 h12.60 M1380.50 287.32 h-12.60 M131.50 424.58 h12.60 M1380.50 424.58 h-12.60 M131.50 561.84 h12.60 M1380.50 561.84 h-12.60" fill="none" stroke="#000" stroke-width="1.05"/>
<path d="M131.50 12.80 V699.10 M1380.50 12.80 V699.10 M256.40 699.10 v-12.60 M256.40 12.80 v12.60 M381.30 699.10 v-12.60 M381.30 12.80 v12.60 M506.20 699.10 v-12.60 M506.20 12.80 v12.60 M631.10 699.10 v-12.60 M631.10 12.80 v12.60 M756.00 699.10 v-12.60 M756.00 12.80 v12.60 M880.90 699.10 v-12.60 M880.90 12.80 v12.60 M1005.80 699.10 v-12.60 M1005.80 12.80 v12.60 M1130.70 699.10 v-12.60 M1130.70 12.80 v12.60 M1255.60 699.10 v-12.60 M1255.60 12.80 v12.60" fill="none" stroke="#000" stroke-width="1.3"/>
<text transform="translate(131.80 740.30) scale(1 1.025)" font-size="37.30" text-anchor="middle" style="stroke-width:0.15px">0</text>
<text transform="translate(251.10 740.30) scale(1 1.025)" font-size="37.30" text-anchor="middle" style="stroke-width:0.15px">1</text>
<text transform="translate(376.00 740.30) scale(1 1.025)" font-size="37.30" text-anchor="middle" style="stroke-width:0.15px">2</text>
<text transform="translate(500.90 740.30) scale(1 1.025)" font-size="37.30" text-anchor="middle" style="stroke-width:0.15px">3</text>
<text transform="translate(625.80 740.30) scale(1 1.025)" font-size="37.30" text-anchor="middle" style="stroke-width:0.15px">4</text>
<text transform="translate(750.70 740.30) scale(1 1.025)" font-size="37.30" text-anchor="middle" style="stroke-width:0.15px">5</text>
<text transform="translate(875.60 740.30) scale(1 1.025)" font-size="37.30" text-anchor="middle" style="stroke-width:0.15px">6</text>
<text transform="translate(1000.50 740.30) scale(1 1.025)" font-size="37.30" text-anchor="middle" style="stroke-width:0.15px">7</text>
<text transform="translate(1125.40 740.30) scale(1 1.025)" font-size="37.30" text-anchor="middle" style="stroke-width:0.15px">8</text>
<text transform="translate(1250.30 740.30) scale(1 1.025)" font-size="37.30" text-anchor="middle" style="stroke-width:0.15px">9</text>
<text transform="translate(1382.10 740.30) scale(1 1.025)" font-size="37.30" text-anchor="middle" style="stroke-width:0.15px">10</text>
<text transform="translate(125.40 26.60) scale(1 1.025)" font-size="37.30" text-anchor="end" style="stroke-width:0.15px">0</text>
<text transform="translate(125.40 164.76) scale(1 1.025)" font-size="37.30" text-anchor="end" style="stroke-width:0.15px">10</text>
<text transform="translate(84.40 166.66) scale(1 1.000)" font-size="37.30" text-anchor="end">−</text>
<text transform="translate(125.40 302.02) scale(1 1.025)" font-size="37.30" text-anchor="end" style="stroke-width:0.15px">20</text>
<text transform="translate(84.40 303.92) scale(1 1.000)" font-size="37.30" text-anchor="end">−</text>
<text transform="translate(125.40 439.28) scale(1 1.025)" font-size="37.30" text-anchor="end" style="stroke-width:0.15px">30</text>
<text transform="translate(84.40 441.18) scale(1 1.000)" font-size="37.30" text-anchor="end">−</text>
<text transform="translate(125.40 576.54) scale(1 1.025)" font-size="37.30" text-anchor="end" style="stroke-width:0.15px">40</text>
<text transform="translate(84.40 578.44) scale(1 1.000)" font-size="37.30" text-anchor="end">−</text>
<text transform="translate(125.40 713.80) scale(1 1.025)" font-size="37.30" text-anchor="end" style="stroke-width:0.15px">50</text>
<text transform="translate(84.40 715.70) scale(1 1.000)" font-size="37.30" text-anchor="end">−</text>
<text transform="translate(752.30 776.60) scale(1 1.040)" font-size="37.75" text-anchor="middle">Frequency/GHz</text>
<g transform="translate(28.6 416.8) rotate(-90)"><text transform="translate(0.00 0.00) scale(1 1.040)" font-size="37.30">S</text><text transform="translate(25.50 18.20) scale(1 1.040)" font-size="28.00">12</text><text transform="translate(56.50 0.00) scale(1 1.040)" font-size="37.30">/dB</text></g>
<rect x="151.50" y="27.00" width="551.50" height="254.30" fill="#fcfcfc"/>
<path d="M150.90 27.15 H703.60 M150.90 281.30 H703.60" fill="none" stroke="#000" stroke-width="1.05"/>
<path d="M151.50 27.00 V281.30 M703.00 27.00 V281.30" fill="none" stroke="#000" stroke-width="1.3"/>
<path d="M163.8 61.30 H226" fill="none" stroke="#000" stroke-width="1.30"/>
<path d="M194.90 54.50 L196.54 59.54 L201.84 59.54 L197.55 62.66 L199.19 67.71 L194.90 64.59 L190.61 67.71 L192.25 62.66 L187.96 59.54 L193.26 59.54Z" fill="none" stroke="#000" stroke-width="1.25" stroke-miterlimit="3"/>
<text transform="translate(232.50 66.70) scale(1 1.040)" font-size="37.30">Measurement,</text>
<text transform="translate(494.30 66.70) scale(1 1.040)" font-size="37.30" text-anchor="middle">V</text>
<text transform="translate(505.00 84.90) scale(1 1.040)" font-size="28.00">gs1</text>
<text transform="translate(551.60 67.70) scale(1 0.860)" font-size="37.30">=</text>
<text transform="translate(583.40 66.70) scale(1 1.040)" font-size="37.30">0.50 V</text>
<path d="M163.8 123.10 H226" fill="none" stroke="#000" stroke-width="1.30"/>
<path d="M188.60 123.60 a6.30 6.30 0 1 0 12.60 0 a6.30 6.30 0 1 0 -12.60 0Z" fill="none" stroke="#000" stroke-width="1.25" stroke-miterlimit="3"/>
<text transform="translate(232.50 128.50) scale(1 1.040)" font-size="37.30">Measurement,</text>
<text transform="translate(494.30 128.50) scale(1 1.040)" font-size="37.30" text-anchor="middle">V</text>
<text transform="translate(505.00 146.70) scale(1 1.040)" font-size="28.00">gs1</text>
<text transform="translate(551.60 129.50) scale(1 0.860)" font-size="37.30">=</text>
<text transform="translate(583.40 128.50) scale(1 1.040)" font-size="37.30">0.55 V</text>
<path d="M163.8 184.80 H226" fill="none" stroke="#000" stroke-width="1.30"/>
<path d="M194.90 177.10 L201.65 188.80 L188.15 188.80Z" fill="none" stroke="#000" stroke-width="1.25" stroke-miterlimit="3"/>
<text transform="translate(232.50 190.20) scale(1 1.040)" font-size="37.30">Simulation,</text>
<text transform="translate(439.10 190.20) scale(1 1.040)" font-size="37.30" text-anchor="middle">V</text>
<text transform="translate(449.50 208.40) scale(1 1.040)" font-size="28.00">gs1</text>
<text transform="translate(496.10 191.20) scale(1 0.860)" font-size="37.30">=</text>
<text transform="translate(527.90 190.20) scale(1 1.040)" font-size="37.30">0.50 V</text>
<path d="M163.8 246.50 H226" fill="none" stroke="#000" stroke-width="1.30"/>
<path d="M194.90 254.40 L201.65 242.70 L188.15 242.70Z" fill="none" stroke="#000" stroke-width="1.25" stroke-miterlimit="3"/>
<text transform="translate(232.50 251.90) scale(1 1.040)" font-size="37.30">Simulation,</text>
<text transform="translate(439.10 251.90) scale(1 1.040)" font-size="37.30" text-anchor="middle">V</text>
<text transform="translate(449.50 270.10) scale(1 1.040)" font-size="28.00">gs1</text>
<text transform="translate(496.10 252.90) scale(1 0.860)" font-size="37.30">=</text>
<text transform="translate(527.90 251.90) scale(1 1.040)" font-size="37.30">0.55 V</text>
</svg></body></html>
